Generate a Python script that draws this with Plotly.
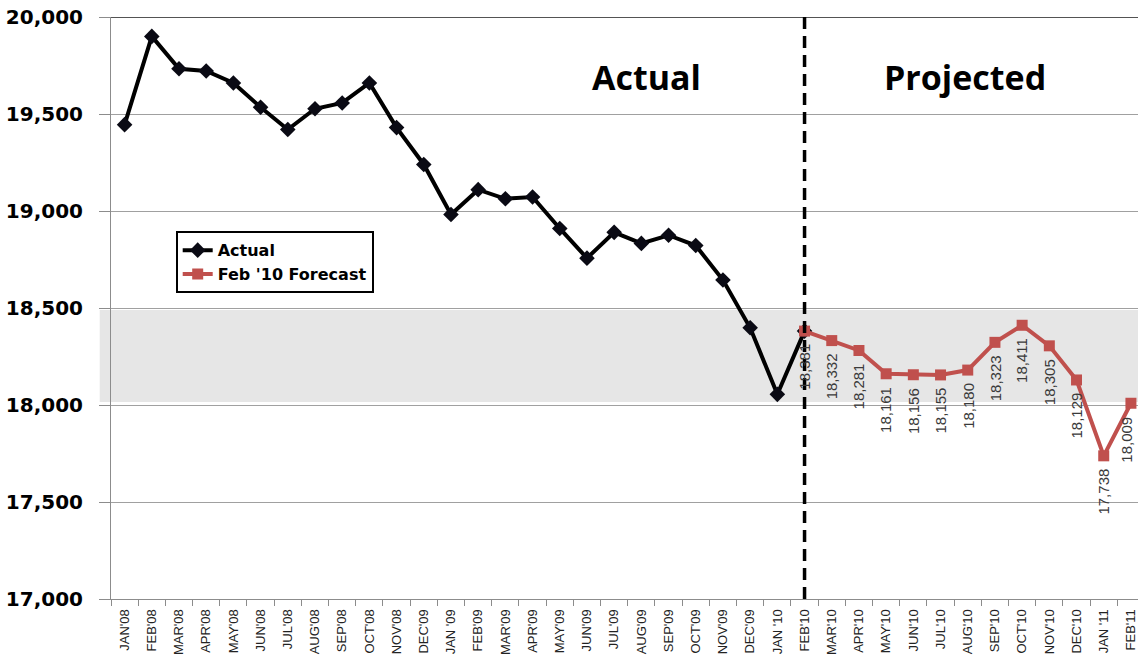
import plotly.graph_objects as go

# Month labels along the x axis (the source sheet repeats "DEC'09")
months = ["JAN'08", "FEB'08", "MAR'08", "APR'08", "MAY'08", "JUN'08", "JUL'08",
          "AUG'08", "SEP'08", "OCT'08", "NOV'08", "DEC'09", "JAN '09", "FEB'09",
          "MAR'09", "APR'09", "MAY'09", "JUN'09", "JUL'09", "AUG'09", "SEP'09",
          "OCT'09", "NOV'09", "DEC'09", "JAN '10", "FEB'10", "MAR'10", "APR'10",
          "MAY'10", "JUN'10", "JUL'10", "AUG'10", "SEP'10", "OCT'10", "NOV'10",
          "DEC'10", "JAN '11", "FEB'11"]

# Actual head count, Jan '08 through Feb '10
actual = [19445, 19900, 19733, 19722, 19660, 19535, 19420, 19527, 19557, 19660,
          19430, 19240, 18982, 19110, 19063, 19072, 18910, 18757, 18890, 18833,
          18875, 18822, 18644, 18398, 18055, 18381]

# Feb '10 forecast, Feb '10 through Feb '11
forecast = [18381, 18332, 18281, 18161, 18156, 18155, 18180, 18323, 18411,
            18305, 18129, 17738, 18009]

band_low, band_high = 18015, 18490
y_ticks = [17000, 17500, 18000, 18500, 19000, 19500, 20000]

x_idx = list(range(len(months)))
x_actual = x_idx[:len(actual)]
split = len(actual) - 1
x_fc = x_idx[split:split + len(forecast)]

RED = "#C0504D"

fig = go.Figure()

fig.add_trace(go.Scatter(
    x=x_actual, y=actual, name="Actual", mode="lines+markers",
    line=dict(color="#000000", width=4),
    marker=dict(symbol="diamond", size=12, color="#0a0a14"),
    legendgroup="a",
))
fig.add_trace(go.Scatter(
    x=x_fc, y=forecast, name="Feb '10 Forecast", mode="lines+markers",
    line=dict(color=RED, width=4),
    marker=dict(symbol="square", size=11, color=RED),
    legendgroup="f",
))

# shaded target band
fig.add_shape(type="rect", xref="paper", yref="y", x0=-0.011, x1=1,
              y0=band_low, y1=band_high, fillcolor="#E6E6E6",
              line=dict(width=0), layer="below")

# top border line
fig.add_shape(type="line", xref="paper", yref="y", x0=0, x1=1,
              y0=20000, y1=20000, line=dict(color="#1a1a1a", width=1.5))

# divider between actual and projected months
fig.add_shape(type="line", xref="x", yref="paper", x0=split, x1=split,
              y0=0, y1=1.008, line=dict(color="#000000", width=3.5, dash="12px,7px"))

annotations = []
last = len(forecast) - 1
for i, (xi, v) in enumerate(zip(x_fc, forecast)):
    # the final label sits at the right edge, so anchor it inward
    edge = i == last
    annotations.append(dict(
        x=xi, y=v, xref="x", yref="y", text=f"{v:,}", showarrow=False,
        textangle=-90, xanchor="right" if edge else "center", yanchor="top",
        xshift=6 if edge else 0, yshift=-11,
        font=dict(family="Liberation Sans Narrow, Liberation Sans, Arial", size=15,
                  color="#3a3a3a"),
    ))

header_y = 1 - (77 - 17) / 584
for txt, xc in [("Actual", (646 - 111) / 1027), ("Projected", (965 - 111) / 1027)]:
    annotations.append(dict(
        x=xc, y=header_y, xref="paper", yref="paper", text=txt, showarrow=False,
        xanchor="center", yanchor="middle",
        font=dict(family="Open Sans", size=34, color="#000000", weight="bold"),
    ))

fig.update_layout(
    width=1138, height=655,
    margin=dict(l=111, r=0, t=17, b=54),
    paper_bgcolor="white", plot_bgcolor="white",
    annotations=annotations,
    showlegend=True,
    legend=dict(
        x=0.063, y=1 - (232 - 17) / 584, xanchor="left", yanchor="top",
        bordercolor="#000000", borderwidth=2, bgcolor="white",
        font=dict(family="DejaVu Sans", size=16, color="#000000", weight="bold"),
        tracegroupgap=0, traceorder="grouped",
    ),
    xaxis=dict(
        range=[-0.5, 37.26], tickmode="array", tickvals=x_idx, ticktext=months,
        tickangle=-90, ticks="", showgrid=False, zeroline=False,
        showline=True, linecolor="#8c8c8c", linewidth=1,
        tickfont=dict(family="Liberation Sans, Arial", size=13, color="#222222"),
        ticklabelstandoff=4, ticklabeloverflow="allow",
        minor=dict(tick0=0.5, dtick=1, ticks="outside", ticklen=6,
                   tickcolor="#8c8c8c", showgrid=False),
    ),
    yaxis=dict(
        range=[17000, 20000], tickmode="array", tickvals=y_ticks,
        ticktext=[f"{t:,}" for t in y_ticks],
        showgrid=True, gridcolor="#a0a0a0", gridwidth=1, zeroline=False,
        showline=True, linecolor="#8c8c8c", linewidth=1,
        ticks="outside", ticklen=11, tickcolor="#8c8c8c",
        tickfont=dict(family="DejaVu Sans", size=20, color="#000000", weight="bold"),
        ticklabelstandoff=12,
    ),
)

fig.write_html("out.html")
